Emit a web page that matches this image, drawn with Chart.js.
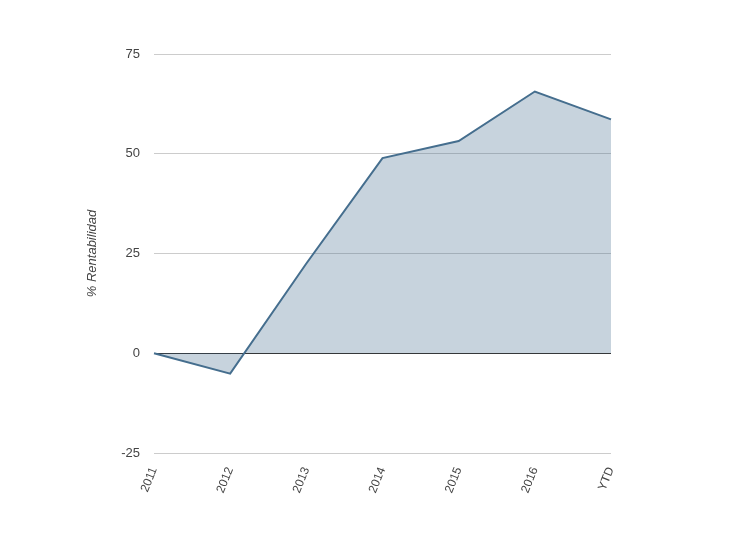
<!DOCTYPE html>
<html lang="es">
<head>
    <meta charset="UTF-8">
    <title>% Rentabilidad</title>
    <script src="https://cdn.jsdelivr.net/npm/chart.js"></script>
    <style>
        body {
            margin: 0;
            padding: 0;
            background: #ffffff;
        }
        #chart-container {
            width: 737px;
            height: 557px;
        }
    </style>
</head>
<body>
    <div id="chart-container">
        <canvas id="rentChart" width="737" height="557"></canvas>
    </div>
    <script>
        const years = ['2011', '2012', '2013', '2014', '2015', '2016', 'YTD'];
        const rentabilidad = [0, -5.1, 22.5, 48.9, 53.2, 65.6, 58.6];
        const yTicks = [-25, 0, 25, 50, 75];

        Chart.defaults.font.family = 'Arial, "Liberation Sans", sans-serif';
        Chart.defaults.font.size = 13;
        Chart.defaults.color = '#444444';

        const ctx = document.getElementById('rentChart').getContext('2d');
        new Chart(ctx, {
            type: 'line',
            data: {
                labels: years,
                datasets: [{
                    label: '% Rentabilidad',
                    data: rentabilidad,
                    borderColor: '#456e8e',
                    backgroundColor: 'rgba(69, 110, 142, 0.3)',
                    borderWidth: 2,
                    fill: 'origin',
                    tension: 0,
                    pointRadius: 0
                }]
            },
            options: {
                responsive: false,
                maintainAspectRatio: false,
                animation: false,
                layout: {
                    padding: { left: 81, right: 126, top: 54, bottom: 44 }
                },
                plugins: {
                    legend: { display: false },
                    tooltip: { enabled: false }
                },
                scales: {
                    x: {
                        offset: false,
                        grid: { display: false },
                        border: { display: false },
                        ticks: {
                            minRotation: 68,
                            maxRotation: 68,
                            autoSkip: false,
                            padding: 4,
                            font: { size: 12 },
                            color: '#444444'
                        },
                        afterFit: function (scale) {
                            scale.height = 60;
                        }
                    },
                    y: {
                        min: yTicks[0],
                        max: yTicks[yTicks.length - 1],
                        afterBuildTicks: function (scale) {
                            scale.ticks = yTicks.map(v => ({ value: v }));
                        },
                        grid: {
                            drawTicks: false,
                            color: function (c) {
                                return c.tick && c.tick.value === 0 ? '#333333' : '#cccccc';
                            }
                        },
                        border: { display: false },
                        ticks: {
                            padding: 14,
                            color: '#444444'
                        },
                        title: {
                            display: true,
                            text: '% Rentabilidad',
                            color: '#444444',
                            font: { style: 'italic', size: 13 }
                        },
                        afterFit: function (scale) {
                            scale.width = 73;
                        }
                    }
                }
            }
        });
    </script>
</body>
</html>
